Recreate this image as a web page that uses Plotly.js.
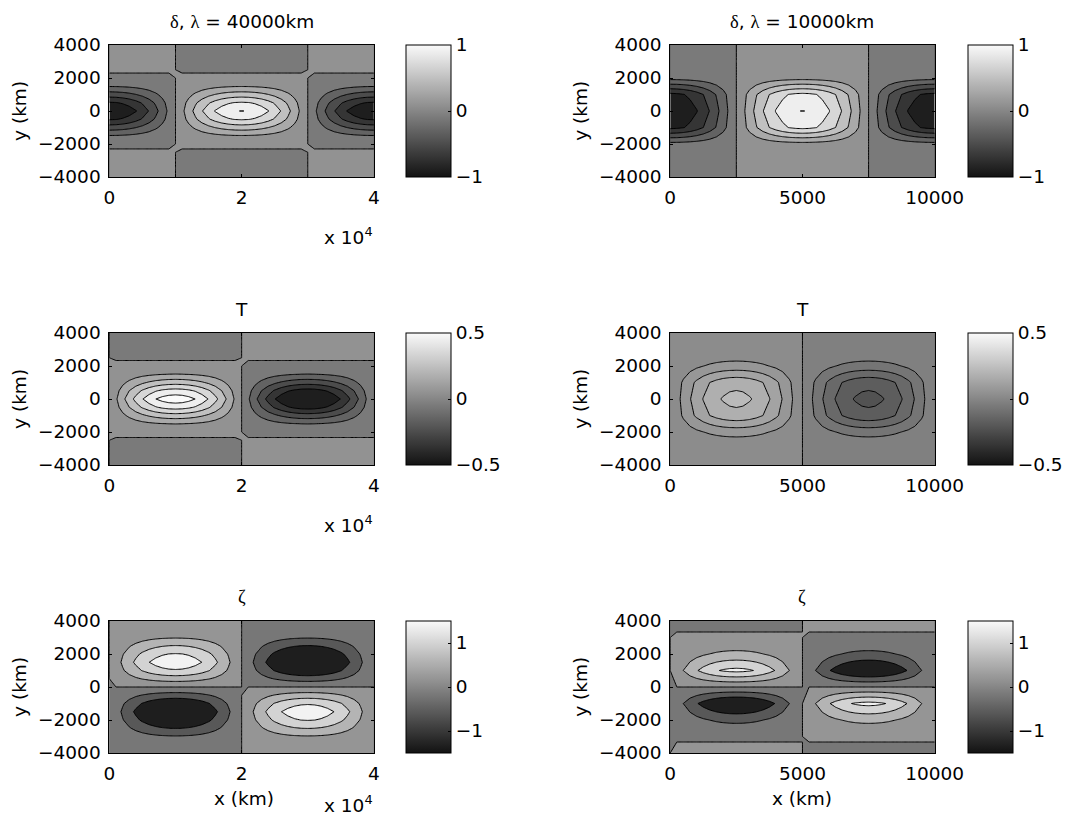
<!DOCTYPE html>
<html>
<head>
<meta charset="utf-8">
<script src="https://cdn.plot.ly/plotly-3.0.1.min.js"></script>
<style>
  html, body { margin: 0; padding: 0; background: #ffffff; }
  #chart { width: 1066px; height: 820px; }
</style>
</head>
<body>
<div id="chart"></div>
<script>
// ---------------- DATA ----------------
// grid coordinates (km)
const xKm40 = [0,1000,2000,3000,4000,5000,6000,7000,8000,9000,10000,11000,12000,13000,14000,15000,16000,17000,18000,19000,20000,21000,22000,23000,24000,25000,26000,27000,28000,29000,30000,31000,32000,33000,34000,35000,36000,37000,38000,39000,40000];
const xKm10 = [0,250,500,750,1000,1250,1500,1750,2000,2250,2500,2750,3000,3250,3500,3750,4000,4250,4500,4750,5000,5250,5500,5750,6000,6250,6500,6750,7000,7250,7500,7750,8000,8250,8500,8750,9000,9250,9500,9750,10000];
const yKm40 = [-4000,-3500,-3000,-2500,-2000,-1500,-1000,-500,0,500,1000,1500,2000,2500,3000,3500,4000];
const yKm10 = [-4000,-3000,-2000,-1000,0,1000,2000,3000,4000];

// zonal structure of each field along one wavelength
const deltaXShape = [-1,-0.988,-0.951,-0.891,-0.809,-0.707,-0.588,-0.454,-0.309,-0.156,0,0.156,0.309,0.454,0.588,0.707,0.809,0.891,0.951,0.988,1,0.988,0.951,0.891,0.809,0.707,0.588,0.454,0.309,0.156,0,-0.156,-0.309,-0.454,-0.588,-0.707,-0.809,-0.891,-0.951,-0.988,-1];
const tempXShape = [0,0.156,0.309,0.454,0.588,0.707,0.809,0.891,0.951,0.988,1,0.988,0.951,0.891,0.809,0.707,0.588,0.454,0.309,0.156,0,-0.156,-0.309,-0.454,-0.588,-0.707,-0.809,-0.891,-0.951,-0.988,-1,-0.988,-0.951,-0.891,-0.809,-0.707,-0.588,-0.454,-0.309,-0.156,-0.0001];
const vortXShape = [0,0.156,0.309,0.454,0.588,0.707,0.809,0.891,0.951,0.988,1,0.988,0.951,0.891,0.809,0.707,0.588,0.454,0.309,0.156,0.0001,-0.156,-0.309,-0.454,-0.588,-0.707,-0.809,-0.891,-0.951,-0.988,-1,-0.988,-0.951,-0.891,-0.809,-0.707,-0.588,-0.454,-0.309,-0.156,-0.0001];

// meridional amplitude profiles (values at yKm40 / yKm10)
const deltaY40 = [-0.005,-0.01,-0.02,-0.02,0.03,0.19,0.5,0.82,1.004,0.82,0.5,0.19,0.03,-0.02,-0.02,-0.01,-0.005];
const deltaY10 = [0.0003,0.005,0.13,0.85,1.004,0.85,0.13,0.005,0.0003];
const tempY40  = [-0.004,-0.008,-0.012,-0.01,0.02,0.102,0.26,0.44,0.56,0.44,0.26,0.102,0.02,-0.01,-0.012,-0.008,-0.004];
const tempY10  = [0.0002,0.003,0.07,0.186,0.215,0.186,0.07,0.003,0.0002];
const vortY40  = [-0.02,-0.1,-0.37,-0.81,-1.22,-1.48,-1.16,-0.59,0,0.59,1.16,1.48,1.22,0.81,0.37,0.1,0.02];
const vortY10  = [0.02,-0.01,-0.5,-1.31,0,1.31,0.5,0.01,-0.02];

// titles and tick labels
const panelTitles = ['δ, λ = 40000km', 'δ, λ = 10000km', 'T', 'T', 'ζ', 'ζ'];
const xTickVals40 = [0, 20000, 40000];
const xTickText40 = ['0', '2', '4'];
const xTickVals10 = [0, 5000, 10000];
const xTickText10 = ['0', '5000', '10000'];
const yTickVals = [-4000, -2000, 0, 2000, 4000];
const cbarTicksDelta = [-1, 0, 1];
const cbarTicksTemp = [-0.5, 0, 0.5];
const cbarTicksVort = [-1, 0, 1];

// ---------------- STYLE / LAYOUT ----------------
const W = 1066, H = 820;
const FONT = 'DejaVu Sans';
const SERIF = 'Liberation Serif';
const FS = 18.5;
const colLeft = [110, 674];      // plot left edges (px)
const colRight = [376, 940];     // plot right edges (px)
const cbLeft = [408, 973];       // colorbar left edges (px)
const rowTop = [45, 333, 621];   // plot top edges (px)
const rowH = 132;
const px = v => v / W;
const py = v => 1 - v / H;

function greek(s) {
  return s.replace(/[δλζ]/g, m => '<span style="font-family:\'' + SERIF + '\'">' + m + '</span>');
}

function gray(v, cmin, cmax) {
  let t = (v - cmin) / (cmax - cmin);
  let g = Math.round(18 + 232 * t);
  g = Math.max(18, Math.min(250, g));
  return 'rgb(' + g + ',' + g + ',' + g + ')';
}

function outer(ys, xs) {
  return ys.map(a => xs.map(b => a * b));
}

const panels = [
  {x: xKm40, y: yKm40, z: outer(deltaY40, deltaXShape), lv: [-0.8, 1.0, 0.2], c: [-1, 1],     cb: cbarTicksDelta, bottom: null},
  {x: xKm10, y: yKm10, z: outer(deltaY10, deltaXShape), lv: [-0.8, 1.0, 0.2], c: [-1, 1],     cb: cbarTicksDelta, bottom: null},
  {x: xKm40, y: yKm40, z: outer(tempY40, tempXShape),   lv: [-0.4, 0.5, 0.1], c: [-0.5, 0.5], cb: cbarTicksTemp,  bottom: null},
  {x: xKm10, y: yKm10, z: outer(tempY10, tempXShape),   lv: [-0.2, 0.2, 0.05], c: [-0.5, 0.5], cb: cbarTicksTemp, bottom: null},
  {x: xKm40, y: yKm40, z: outer(vortY40, vortXShape),   lv: [-0.8, 1.2, 0.4], c: [-1.5, 1.5], cb: cbarTicksVort,  bottom: 30},
  {x: xKm10, y: yKm10, z: outer(vortY10, vortXShape),   lv: [-0.8, 1.2, 0.4], c: [-1.5, 1.5], cb: cbarTicksVort,  bottom: 30}
];

const traces = [];
const layout = {
  width: W, height: H,
  margin: {l: 0, r: 0, t: 0, b: 0},
  paper_bgcolor: '#ffffff',
  plot_bgcolor: '#ffffff',
  showlegend: false,
  font: {family: FONT, size: FS, color: '#000'},
  annotations: []
};

panels.forEach((p, i) => {
  const row = Math.floor(i / 2), col = i % 2;
  const xid = i === 0 ? 'x' : 'x' + (i + 1);
  const yid = i === 0 ? 'y' : 'y' + (i + 1);
  const xname = i === 0 ? 'xaxis' : 'xaxis' + (i + 1);
  const yname = i === 0 ? 'yaxis' : 'yaxis' + (i + 1);
  const [start, end, size] = p.lv;
  const nc = Math.round((end - start) / size) + 1;
  const cs = [];
  for (let k = 0; k <= nc; k++) {
    const v = start + (k - 0.5) * size;
    let col_ = gray(v, p.c[0], p.c[1]);
    if (k === 0 && p.bottom !== null) col_ = 'rgb(' + p.bottom + ',' + p.bottom + ',' + p.bottom + ')';
    cs.push([k / nc, col_]);
  }
  traces.push({
    type: 'contour', x: p.x, y: p.y, z: p.z,
    xaxis: xid, yaxis: yid,
    autocontour: false,
    contours: {start: start, end: end, size: size, coloring: 'fill', showlines: true},
    colorscale: cs,
    showscale: false,
    line: {color: '#000000', width: 1, smoothing: 0},
    hoverinfo: 'skip'
  });
  // continuous colorbar (MATLAB style)
  const ncb = 20, cbScale = [];
  for (let k = 0; k <= ncb; k++) {
    const v = p.c[0] + (p.c[1] - p.c[0]) * k / ncb;
    cbScale.push([k / ncb, gray(v, p.c[0], p.c[1])]);
  }
  traces.push({
    type: 'scatter', mode: 'markers', x: [p.x[0]], y: [0],
    xaxis: xid, yaxis: yid, hoverinfo: 'skip',
    marker: {
      size: 1, opacity: 0, color: [p.c[0]], cmin: p.c[0], cmax: p.c[1],
      colorscale: cbScale, showscale: true,
      colorbar: {
        thickness: 45, thicknessmode: 'pixels',
        len: rowH, lenmode: 'pixels',
        x: px(cbLeft[col]), xanchor: 'left', xpad: 0,
        y: py(rowTop[row]), yanchor: 'top', ypad: 0,
        outlinewidth: 1, outlinecolor: '#000',
        ticks: 'inside', ticklen: 3, tickcolor: '#000',
        tickvals: p.cb, tickfont: {family: FONT, size: FS, color: '#000'}
      }
    }
  });
  const isLeft = col === 0;
  layout[xname] = {
    domain: [px(colLeft[col]), px(colRight[col])],
    anchor: yid,
    range: [p.x[0], p.x[p.x.length - 1]],
    tickvals: isLeft ? xTickVals40 : xTickVals10,
    ticktext: isLeft ? xTickText40 : xTickText10,
    ticks: 'inside', ticklen: 3, tickcolor: '#000',
    showline: true, linecolor: '#000', linewidth: 1, mirror: 'ticks',
    showgrid: false, zeroline: false,
    ticklabelstandoff: 4,
    tickfont: {family: FONT, size: FS, color: '#000'}
  };
  layout[yname] = {
    domain: [py(rowTop[row] + rowH), py(rowTop[row])],
    anchor: xid,
    range: [-4000, 4000],
    tickvals: yTickVals,
    ticks: 'inside', ticklen: 3, tickcolor: '#000',
    showline: true, linecolor: '#000', linewidth: 1, mirror: 'ticks',
    showgrid: false, zeroline: false,
    ticklabelstandoff: 4,
    tickfont: {family: FONT, size: FS, color: '#000'}
  };
  const cx = (colLeft[col] + colRight[col]) / 2;
  // panel title
  layout.annotations.push({
    text: greek(panelTitles[i]), xref: 'paper', yref: 'paper',
    x: px(cx), y: py(21 + row * 288), xanchor: 'center', yanchor: 'middle',
    showarrow: false, font: {family: FONT, size: FS, color: '#000'}
  });
  // y axis title
  layout.annotations.push({
    text: 'y (km)', xref: 'paper', yref: 'paper', textangle: -90,
    x: px(colLeft[col] - 91), y: py(rowTop[row] + rowH / 2), xanchor: 'center', yanchor: 'middle',
    showarrow: false, font: {family: FONT, size: FS, color: '#000'}
  });
  // x10^4 multiplier on the left column
  if (isLeft) {
    const yc = row < 2 ? 236 + row * 288 : 804;
    layout.annotations.push({
      text: 'x 10<sup>4</sup>', xref: 'paper', yref: 'paper',
      x: px(377), y: py(yc), xanchor: 'right', yanchor: 'middle',
      showarrow: false, font: {family: FONT, size: FS, color: '#000'}
    });
  }
  // x axis title on bottom row
  if (row === 2) {
    layout.annotations.push({
      text: 'x (km)', xref: 'paper', yref: 'paper',
      x: px(cx + (isLeft ? 2 : 0)), y: py(798), xanchor: 'center', yanchor: 'middle',
      showarrow: false, font: {family: FONT, size: FS, color: '#000'}
    });
  }
});

Plotly.newPlot('chart', traces, layout, {staticPlot: true, displayModeBar: false});
</script>
</body>
</html>
